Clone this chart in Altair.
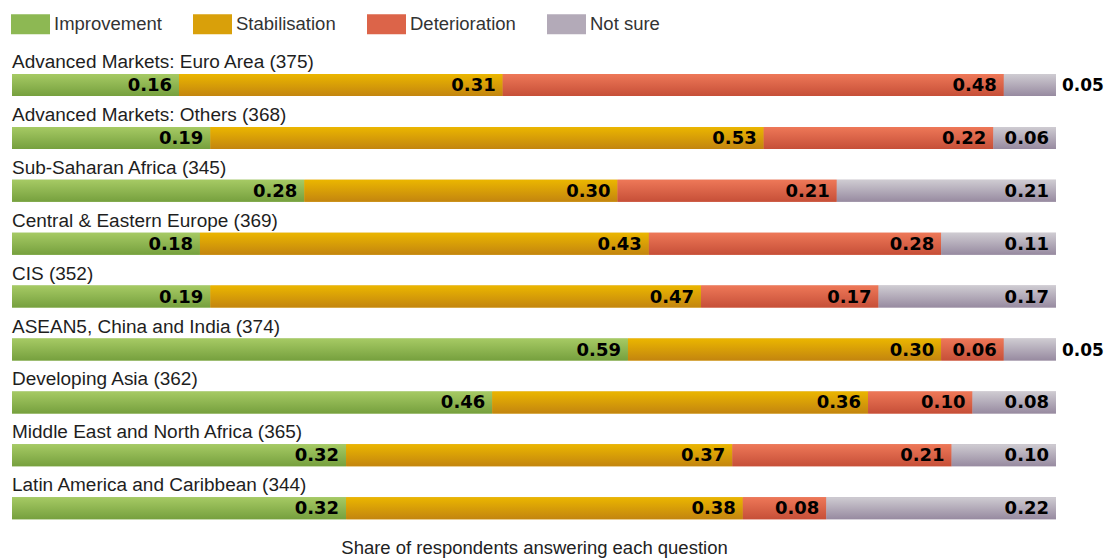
import altair as alt
import pandas as pd

regions = [
    "Advanced Markets: Euro Area (375)",
    "Advanced Markets: Others (368)",
    "Sub-Saharan Africa (345)",
    "Central & Eastern Europe (369)",
    "CIS (352)",
    "ASEAN5, China and India (374)",
    "Developing Asia (362)",
    "Middle East and  North Africa (365)",
    "Latin America and Caribbean (344)",
]
series = ["Improvement", "Stabilisation", "Deterioration", "Not sure"]
improvement = [0.16, 0.19, 0.28, 0.18, 0.19, 0.59, 0.46, 0.32, 0.32]
stabilisation = [0.31, 0.53, 0.30, 0.43, 0.47, 0.30, 0.36, 0.37, 0.38]
deterioration = [0.48, 0.22, 0.21, 0.28, 0.17, 0.06, 0.10, 0.21, 0.08]
not_sure = [0.05, 0.06, 0.21, 0.11, 0.17, 0.05, 0.08, 0.10, 0.22]

solid = ["#8db853", "#d9a00a", "#dc6449", "#b3aab8"]
grad = {
    "Improvement": ("#a6ca64", "#76a03e"),
    "Stabilisation": ("#ebb600", "#c3850f"),
    "Deterioration": ("#ee7858", "#c64f38"),
    "Not sure": ("#cfccd2", "#978aa0"),
}

rows = []
for i, r in enumerate(regions):
    vals = [improvement[i], stabilisation[i], deterioration[i], not_sure[i]]
    start = 0.0
    for k, (s, v) in enumerate(zip(series, vals)):
        rows.append({"region": r, "series": s, "order": k, "value": v,
                     "start": start, "end": start + v,
                     "label": f"{v:.2f}", "inside": v > 0.055})
        start += v
df = pd.DataFrame(rows)
rdf = pd.DataFrame({"region": regions, "zero": [0.0] * len(regions)})

STEP = 52.9
PI = 0.584
PO = 0.4537
yscale = alt.Scale(domain=regions, paddingInner=PI, paddingOuter=PO)
xscale = alt.Scale(domain=[0, 1], nice=False, zero=True)

base = alt.Chart(df)

bars = base.mark_bar().encode(
    y=alt.Y("region:N", scale=yscale, axis=None, sort=regions),
    x=alt.X("start:Q", scale=xscale,
            axis=alt.Axis(labels=False, ticks=False, domain=False, grid=False,
                          title="Share of respondents answering each question",
                          titleFont="Liberation Sans", titleFontSize=18.5,
                          titleFontWeight="normal", titleColor="#222",
                          titlePadding=10, titleBaseline="alphabetic")),
    x2="end:Q",
    color=alt.Color("series:N", scale=alt.Scale(domain=series, range=solid),
                    legend=alt.Legend(
                        orient="none", direction="horizontal", legendX=-1, legendY=-45.5,
                        title=None, labelFont="Liberation Sans", labelFontSize=18.5,
                        labelColor="#333", symbolType="M-1,-0.513H1V0.513H-1Z",
                        symbolSize=1521, symbolStrokeWidth=0, symbolOpacity=1,
                        labelOffset=4, columnPadding=31, padding=0)),
)

grad_layers = []
for s in series:
    top, bot = grad[s]
    grad_layers.append(
        base.transform_filter(alt.datum.series == s).mark_bar(
            color=alt.Gradient(gradient="linear",
                               stops=[alt.GradientStop(color=top, offset=0),
                                      alt.GradientStop(color=bot, offset=1)],
                               x1=0, x2=0, y1=0, y2=1)
        ).encode(
            y=alt.Y("region:N", scale=yscale, sort=regions),
            x=alt.X("start:Q", scale=xscale),
            x2="end:Q",
        )
    )

inside_labels = base.transform_filter(alt.datum.inside).mark_text(
    align="right", baseline="middle", dx=-7, dy=1,
    font="DejaVu Sans", fontWeight="bold", fontSize=18, color="#000",
).encode(
    y=alt.Y("region:N", scale=yscale, sort=regions),
    x=alt.X("end:Q", scale=xscale),
    text="label:N",
)

outside_labels = base.transform_filter(~alt.datum.inside).mark_text(
    align="left", baseline="middle", dx=6, dy=1,
    font="DejaVu Sans", fontWeight="bold", fontSize=17, color="#000",
).encode(
    y=alt.Y("region:N", scale=yscale, sort=regions),
    x=alt.X("end:Q", scale=xscale),
    text="label:N",
)

row_labels = alt.Chart(rdf).mark_text(
    align="left", baseline="middle", dy=-23,
    font="Liberation Sans", fontSize=19, color="#1e1e1e",
).encode(
    y=alt.Y("region:N", scale=yscale, sort=regions),
    x=alt.X("zero:Q", scale=xscale),
    text="region:N",
)

chart = alt.layer(bars, *grad_layers, inside_labels, outside_labels, row_labels).properties(
    width=1044,
    height=STEP * (9 - PI + 2 * PO),
    autosize=alt.AutoSizeParams(type="none"),
    padding={"left": 4, "top": 42, "right": 48, "bottom": 20},
).configure(background="white").configure_view(stroke=None)

chart.save("out.html", embed_options={"renderer": "svg", "actions": False})
